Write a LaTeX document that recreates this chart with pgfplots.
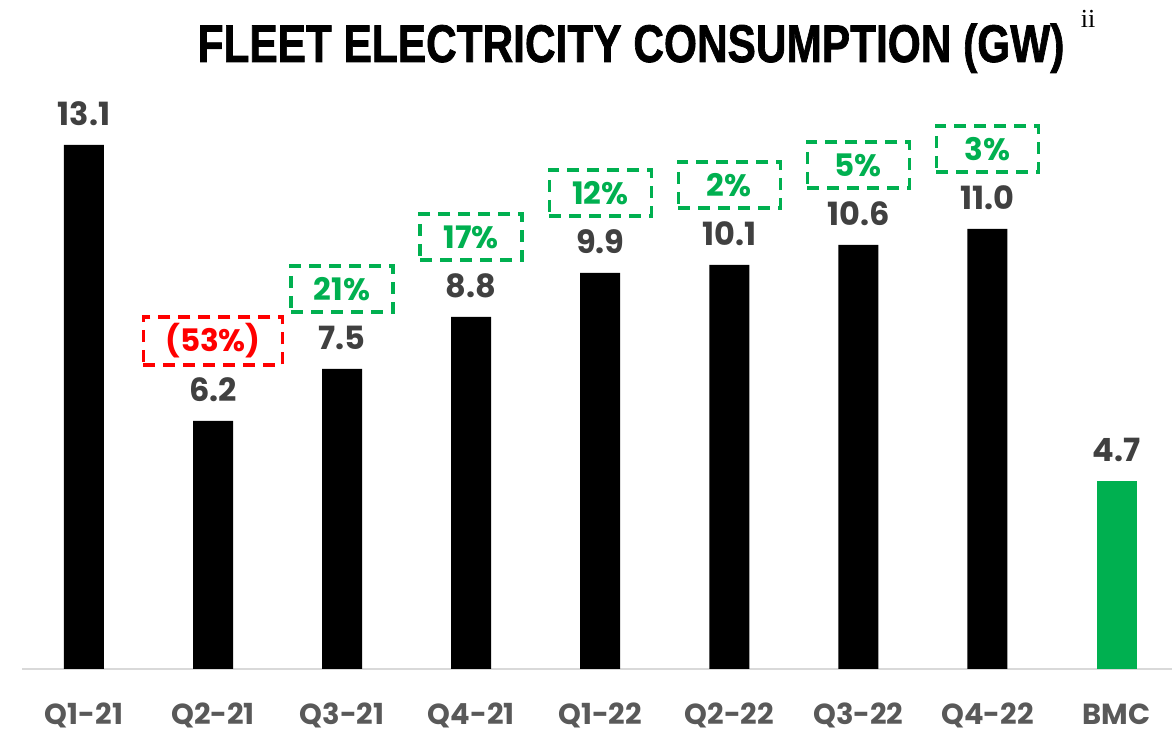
\documentclass[border=0pt]{standalone}
\usepackage{pgfplots}
\pgfplotsset{compat=1.18}
\usepackage{fontspec}
\setmainfont{Poppins}
\newfontfamily\titlefont[BoldFeatures={FakeBold=1.5}]{Liberation Sans}
\newfontfamily\notefont{Liberation Serif}
\definecolor{bmcgreen}{HTML}{00B050}
\definecolor{valgray}{HTML}{404040}
\definecolor{tickgray}{HTML}{595959}
\definecolor{upgreen}{HTML}{00B050}
\definecolor{downred}{HTML}{FF0000}
\definecolor{axisgray}{HTML}{D9D9D9}

\begin{document}
\begin{tikzpicture}
\begin{axis}[
  at={(0,0)}, anchor=south west,
  scale only axis, width=575pt, height=334.5pt,
  xmin=-0.48, xmax=8.43, ymin=0, ymax=16.725,
  axis x line=bottom, axis y line=none,
  x axis line style={draw=axisgray, line width=1pt, -},
  xtick={0,...,8}, xtick style={draw=none},
  xticklabels={Q1-21,Q2-21,Q3-21,Q4-21,Q1-22,Q2-22,Q3-22,Q4-22,BMC},
  xticklabel style={font=\bfseries\fontsize{14.5}{14.5}\selectfont, text=tickgray, anchor=base, yshift=-23.5pt},
  ytick=\empty,
  ybar, bar width=20pt, bar shift=0pt,
  clip=false,
  point meta=explicit symbolic,
]
% quarterly consumption
\addplot[fill=black, draw=none, nodes near coords,
  every node near coord/.style={font=\bfseries\fontsize{16}{16}\selectfont, text=valgray, anchor=center, yshift=15.5pt}]
  coordinates {(0,13.1)[13.1] (1,6.2)[6.2] (2,7.5)[7.5] (3,8.8)[8.8] (4,9.9)[9.9] (5,10.1)[10.1] (6,10.6)[10.6] (7,11.0)[11.0]};
% BMC
\addplot[fill=bmcgreen, draw=none, nodes near coords,
  every node near coord/.style={font=\bfseries\fontsize{16}{16}\selectfont, text=valgray, anchor=center, yshift=15.5pt}]
  coordinates {(8,4.7)[4.7]};
% change vs previous quarter
\addplot[fill=none, draw=none, nodes near coords,
  every node near coord/.style={font=\bfseries\fontsize{15.5}{15.5}\selectfont, text=downred, draw=downred,
    line width=1.7pt, dash pattern=on 6pt off 4pt, minimum width=51pt, minimum height=23pt,
    inner xsep=11pt, anchor=center, yshift=40pt}]
  coordinates {(1,6.2)[(53\%)]};
\addplot[fill=none, draw=none, nodes near coords,
  every node near coord/.style={font=\bfseries\fontsize{15.5}{15.5}\selectfont, text=upgreen, draw=upgreen,
    line width=1.7pt, dash pattern=on 6pt off 4pt, minimum width=51pt, minimum height=23pt,
    inner xsep=11pt, anchor=center, yshift=40pt}]
  coordinates {(2,7.5)[21\%] (3,8.8)[17\%] (4,9.9)[12\%] (5,10.1)[2\%] (6,10.6)[5\%] (7,11.0)[3\%]};
\end{axis}
\node[anchor=base, inner sep=0pt] at (304.5pt,303.5pt)
  {\scalebox{0.80}[1]{\titlefont\bfseries\fontsize{26.5}{26.5}\selectfont FLEET ELECTRICITY CONSUMPTION (GW)}};
\node[anchor=base, inner sep=0pt] at (533pt,320.5pt) {\notefont\fontsize{13}{13}\selectfont ii};
\pgfresetboundingbox
\useasboundingbox (-11pt,-31.5pt) rectangle (575pt,334.5pt);
\end{tikzpicture}
\end{document}
